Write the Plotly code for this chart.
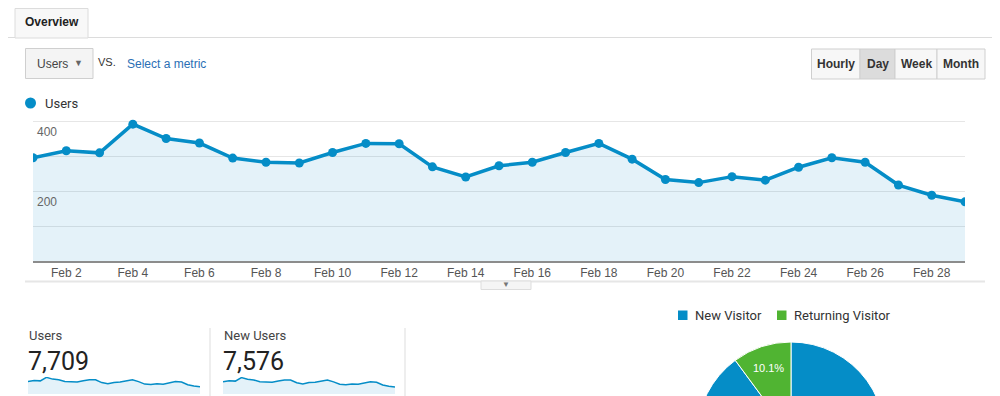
import plotly.graph_objects as go

# ---------------- data ----------------
dates = [f"2020-02-{d:02d}" for d in range(1, 30)]
users = [295, 315, 309, 391, 350, 337, 294, 282, 280, 310, 336, 335, 269, 240,
         272, 282, 310, 336, 291, 233, 224, 241, 231, 268, 295, 282, 217, 188, 169]
new_users = [290, 310, 303, 386, 345, 331, 289, 277, 276, 305, 331, 330, 265, 236,
             268, 277, 305, 331, 286, 229, 220, 237, 227, 264, 290, 277, 213, 185, 166]
tick_dates = ["2020-02-02", "2020-02-04", "2020-02-06", "2020-02-08", "2020-02-10",
              "2020-02-12", "2020-02-14", "2020-02-16", "2020-02-18", "2020-02-20",
              "2020-02-22", "2020-02-24", "2020-02-26", "2020-02-28"]
tick_labels = ["Feb 2", "Feb 4", "Feb 6", "Feb 8", "Feb 10", "Feb 12", "Feb 14",
               "Feb 16", "Feb 18", "Feb 20", "Feb 22", "Feb 24", "Feb 26", "Feb 28"]
y_labels = [200, 400]
metric_names = ["Users", "New Users"]
metric_totals = [7709, 7576]
visitor_types = ["New Visitor", "Returning Visitor"]
visitor_share = [89.9, 10.1]
periods = ["Hourly", "Day", "Week", "Month"]
selected_period = "Day"

# ---------------- geometry helpers ----------------
OFF = 8          # page body margin
W, H = 1000 - OFF, 540
def X(p):
    return (p - OFF) / W
def Y(p):
    return 1 - (p - OFF) / H

BLUE = "#058dc7"
GREEN = "#50b432"
FILL = "rgba(5,141,199,0.11)"
FONT = "Liberation Sans, Arial, sans-serif"
RFONT = "Roboto, Liberation Sans, sans-serif"

fig = go.Figure()

# main chart
fig.add_trace(go.Scatter(
    x=dates, y=users, mode="lines+markers", fill="tozeroy", fillcolor=FILL,
    line=dict(color=BLUE, width=3.5), marker=dict(color=BLUE, size=9),
    name="Users", showlegend=False, xaxis="x", yaxis="y", hoverinfo="x+y"))

# sparklines
for i, series in enumerate([users, new_users]):
    fig.add_trace(go.Scatter(
        x=dates, y=series, mode="lines", fill="tozeroy", fillcolor=FILL,
        line=dict(color=BLUE, width=1.5), showlegend=False,
        xaxis=f"x{i + 2}", yaxis=f"y{i + 2}", hoverinfo="skip"))

# pie (only the part above the fold is visible)
fig.add_trace(go.Pie(
    labels=visitor_types, values=visitor_share, sort=False, direction="clockwise",
    rotation=0, marker=dict(colors=[BLUE, GREEN], line=dict(color="white", width=1)),
    texttemplate=["", "%{percent:.1%}"], textposition="inside",
    insidetextorientation="horizontal",
    insidetextfont=dict(color="white", size=11, family=FONT),
    domain=dict(x=[X(697), X(885)], y=[Y(530), Y(342)]), showlegend=False))

layout_axes = dict(
    xaxis=dict(domain=[X(33), X(965)], type="date", range=["2020-02-01", "2020-02-29"],
               tickvals=tick_dates, ticktext=tick_labels, showgrid=False,
               showline=True, linecolor="#8c8c8c", linewidth=2, ticks="",
               tickfont=dict(family=FONT, size=12, color="#555"), zeroline=False,
               fixedrange=True),
    yaxis=dict(domain=[Y(261), Y(117.5)], range=[0, 410], tickvals=[100, 200, 300, 400],
               showticklabels=False, gridcolor="#e6e6e6", gridwidth=1,
               zeroline=False, fixedrange=True),
)
for i, (x0, x1) in enumerate([(28, 200), (223, 395)]):
    layout_axes[f"xaxis{i + 2}"] = dict(domain=[X(x0), X(x1)], type="date",
                                        range=["2020-02-01", "2020-02-29"],
                                        visible=False, fixedrange=True)
    layout_axes[f"yaxis{i + 2}"] = dict(domain=[Y(394), Y(377)], range=[0, 400],
                                        visible=False, fixedrange=True)

shapes = []
annotations = []

def rect(x0, y0, x1, y1, fill, line="#d6d6d6", width=1):
    shapes.append(dict(type="rect", xref="paper", yref="paper",
                       x0=X(x0), x1=X(x1), y0=Y(y0), y1=Y(y1),
                       fillcolor=fill, line=dict(color=line, width=width), layer="above"))

def hline(x0, x1, y, color, width=1):
    shapes.append(dict(type="line", xref="paper", yref="paper",
                       x0=X(max(x0, OFF)), x1=X(x1), y0=Y(y), y1=Y(y),
                       line=dict(color=color, width=width)))

def vline(x, y0, y1, color, width=1):
    shapes.append(dict(type="line", xref="paper", yref="paper",
                       x0=X(x), x1=X(x), y0=Y(y0), y1=Y(y1),
                       line=dict(color=color, width=width)))

def text(x, y, s, size=12, color="#333", family=FONT, anchor="left", bold=False):
    if bold:
        s = f"<b>{s}</b>"
    annotations.append(dict(xref="paper", yref="paper", x=X(x), y=Y(y), text=s,
                            showarrow=False, xanchor=anchor, yanchor="middle",
                            font=dict(size=size, color=color, family=family)))

# Overview tab
hline(0, 15, 37.5, "#dcdcdc")
hline(88, 1000, 37.5, "#dcdcdc")
rect(15, 8.5, 88, 38, "#f8f8f8", "#dcdcdc")
text(51.5, 22, "Overview", 12, "#222", anchor="center", bold=True)

# metric dropdown
rect(25.5, 48.5, 93, 78.5, "#f4f4f4", "#cfcfcf")
text(35, 64, metric_names[0], 12, "#444")
text(78, 63, "▼", 9, "#666", anchor="center")
text(96, 62, "VS.", 11, "#333")
text(125, 64, "Select a metric", 12, "#2a6fb5")

# period buttons
edges = [811.5, 860, 895, 937, 985]
for i, p in enumerate(periods):
    sel = p == selected_period
    rect(edges[i], 49, edges[i + 1], 79, "#dcdcdc" if sel else "#f7f7f7", "#cfcfcf")
    text((edges[i] + edges[i + 1]) / 2, 64, p, 12, "#333", anchor="center", bold=True)

# main legend
shapes.append(dict(type="circle", xref="paper", yref="paper",
                   x0=X(25), x1=X(36), y0=Y(108.5), y1=Y(97.5),
                   fillcolor=BLUE, line=dict(width=0)))
text(43, 103.5, "Users", 13, "#333", family=RFONT)

# y labels inside chart
for v in y_labels:
    annotations.append(dict(xref="paper", yref="y", x=X(35), y=v, yshift=-2,
                            text=str(v), showarrow=False, xanchor="left",
                            yanchor="top", font=dict(size=12, color="#666", family=FONT)))

# separator under chart and toggle tab
hline(25, 985, 281.5, "#e6e6e6", 2)
rect(481, 281, 531, 289.5, "#f5f5f5", "#dddddd")
text(506, 284.5, "▼", 8, "#777", anchor="center")

# scorecards
for i, (name, total) in enumerate(zip(metric_names, metric_totals)):
    x0 = 27 + i * 195
    text(x0, 335, name, 13, "#444", family=RFONT)
    text(x0 - 1, 361.5, f"{total:,}", 25, "#222", family=RFONT)
vline(210, 328, 396, "#dddddd")
vline(405, 328, 396, "#dddddd")

# pie legend
leg_x = [678, 777]
for lx, lab, col in zip(leg_x, visitor_types, [BLUE, GREEN]):
    shapes.append(dict(type="rect", xref="paper", yref="paper",
                       x0=X(lx), x1=X(lx + 9.5), y0=Y(320), y1=Y(310.5),
                       fillcolor=col, line=dict(width=0)))
    text(lx + 15, 315.5, lab, 13, "#333", family=RFONT)

fig.update_layout(
    width=W, height=H, margin=dict(l=0, r=0, t=0, b=0),
    paper_bgcolor="white", plot_bgcolor="white",
    shapes=shapes, annotations=annotations, **layout_axes)

fig.write_html("out.html")
